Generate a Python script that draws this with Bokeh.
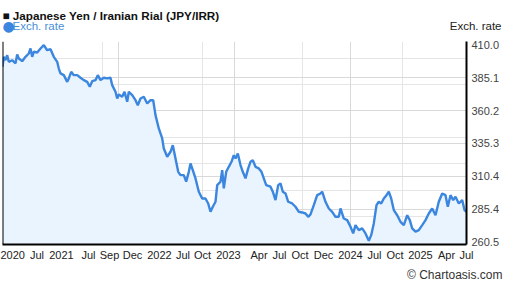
from bokeh.plotting import figure
from bokeh.models import Range1d, LinearAxis, FixedTicker, Span, Grid, PrintfTickFormatter, Title
from bokeh.embed import file_html
from bokeh.resources import INLINE

# position along the index axis (0 = first point, 464 = last point)
t_idx = [0, 1.3, 3, 4.7, 6.3, 9.7, 13, 14.7, 16.3, 19.7, 23, 26.3, 28, 29.7, 31.3, 34.7, 38, 41.3, 44.7, 48,
         51.3, 54.7, 56.3, 58, 61.3, 64.7, 66.3, 68.7, 71.3, 74.7, 78, 81.3, 84.7, 87.3, 89.7, 93, 95.3, 98, 101.3,
         104.7, 108, 109.7, 113, 114.7, 116.3, 119.7, 122, 124.7, 126.3, 129.7, 133, 135.3, 138, 141.3, 144.7, 148,
         150.7, 153, 156.3, 158, 159.7, 161.3, 164.7, 168, 170.3, 173, 175.7, 178, 181.3, 183.7, 186.3, 188, 190.3,
         193, 196.3, 199.7, 203, 205.7, 208, 210.3, 213, 214.7, 218, 219.7, 221.3, 223.7, 226.3, 229, 231.3, 233,
         235.3, 238, 240.3, 243, 245.7, 248, 250.3, 253, 256.3, 259, 261.3, 263.7, 268, 270.3, 273, 275.7, 278,
         280.3, 283, 285.7, 289.7, 293, 296.3, 299.7, 303, 305.7, 308, 311.3, 314.7, 318, 319.7, 323, 326.3, 329.7,
         333, 336.3, 338, 341.3, 344.7, 348, 350.7, 353, 356.3, 359.7, 363, 366.3, 368.7, 371.3, 374, 376.3, 378.7,
         381.3, 384, 386.3, 388.7, 391.3, 394.7, 398, 401.3, 404.7, 407.3, 409.7, 413, 416.3, 419.7, 423, 426.3,
         429.7, 433, 436.3, 439.7, 443, 445.3, 448, 450.7, 453, 456.3, 459.7, 462, 464]
rate = [393.4, 401.0, 398.4, 402.2, 397.2, 398.4, 396.0, 402.8, 399.7, 397.7, 401.0, 403.5, 407.3, 401.0, 404.8,
        404.3, 407.3, 409.8, 406.0, 406.8, 401.0, 397.2, 392.1, 388.4, 387.1, 382.0, 384.6, 389.6, 387.1, 387.1,
        385.1, 383.3, 382.0, 378.3, 382.5, 383.3, 387.1, 383.3, 385.1, 384.6, 385.1, 379.5, 374.5, 369.4, 372.4,
        370.7, 374.5, 366.9, 374.5, 371.9, 368.1, 364.3, 369.4, 370.7, 365.6, 368.1, 368.1, 356.8, 346.7, 342.9,
        339.1, 331.5, 325.2, 329.0, 334.0, 323.9, 313.8, 311.3, 311.3, 306.3, 313.8, 320.1, 315.1, 308.8, 298.7,
        293.6, 293.6, 289.8, 283.5, 287.3, 291.1, 303.7, 306.3, 315.1, 301.2, 313.8, 317.6, 321.4, 326.4, 323.9,
        327.7, 318.9, 313.8, 308.8, 316.4, 321.4, 322.6, 317.6, 316.4, 313.8, 308.8, 303.7, 302.5, 298.7, 292.4,
        303.7, 305.0, 298.7, 297.4, 291.1, 289.8, 287.3, 283.5, 283.0, 282.2, 279.7, 281.5, 288.5, 296.1, 297.4,
        298.7, 291.1, 286.0, 283.5, 279.7, 279.7, 286.0, 278.4, 277.2, 272.1, 267.1, 273.4, 269.6, 270.9, 267.1,
        261.5, 265.8, 274.7, 288.5, 291.1, 289.8, 293.6, 296.1, 298.7, 293.6, 284.8, 280.9, 275.9, 273.4, 280.9,
        277.2, 270.9, 268.4, 269.6, 273.4, 277.2, 282.2, 286.0, 280.9, 291.1, 297.4, 296.1, 287.3, 296.1, 292.4,
        294.9, 289.8, 292.4, 284.8, 283.5]

x_tick_pos = [10, 34.5, 59, 86, 107, 130, 157, 180.5, 200, 226, 256.5, 277, 297.5, 321, 348, 372, 392.5, 418, 444, 464]
x_tick_labels = ["2020", "Jul", "2021", "Jul", "Sep", "Dec", "2022", "Jul", "Oct", "2023", "Apr", "Jul", "Oct",
                 "Dec", "2024", "Jul", "Oct", "2025", "Apr", "Jul"]
y_ticks = [260.5, 285.4, 310.4, 335.3, 360.2, 385.1, 410.0]

X_START, X_END = 0, 464
Y_START, Y_END = 258.7, 412.6

FONT = "Liberation Sans"

p = figure(width=507, height=288, output_backend="svg", toolbar_location=None,
           x_range=Range1d(X_START, X_END), y_range=Range1d(Y_START, Y_END),
           x_axis_location=None, y_axis_location=None,
           min_border_left=2, min_border_right=41, min_border_top=41, min_border_bottom=44)
p.outline_line_color = None
p.background_fill_color = "white"
p.border_fill_color = "white"

p.add_layout(Grid(dimension=0, ticker=FixedTicker(ticks=[X_END * k / 4 for k in (1, 2, 3)]),
                  grid_line_color="#d9d9d9", grid_line_width=1))
p.add_layout(Grid(dimension=1, ticker=FixedTicker(ticks=y_ticks[1:-1]),
                  grid_line_color="#d9d9d9", grid_line_width=1))

p.varea(x=t_idx, y1=Y_START, y2=rate, fill_color="#eaf4fe")
p.line(t_idx, rate, line_color="#3b86de", line_width=2.4)

ry = LinearAxis(ticker=FixedTicker(ticks=y_ticks), formatter=PrintfTickFormatter(format="%.1f"),
                axis_line_color="black", axis_line_width=2,
                major_tick_line_color=None, minor_tick_line_color=None,
                major_tick_out=0, major_tick_in=0,
                major_label_text_font=FONT, major_label_text_font_size="11px",
                major_label_text_color="#444444", major_label_standoff=5)
p.add_layout(ry, "right")

bx = LinearAxis(ticker=FixedTicker(ticks=x_tick_pos),
                major_label_overrides={float(k): v for k, v in zip(x_tick_pos, x_tick_labels)},
                axis_line_color="black", axis_line_width=2,
                major_tick_line_color=None, minor_tick_line_color=None,
                major_tick_out=0, major_tick_in=0,
                major_label_text_font=FONT, major_label_text_font_size="11px",
                major_label_text_color="#222222", major_label_standoff=4)
p.add_layout(bx, "below")

p.add_layout(Span(location=X_START, dimension="height", line_color="black", line_width=2))


def title(text, size, color, align, style="normal", standoff=0, offset=0, valign="middle", font=FONT):
    try:
        t = Title(text=text, text_font=font, text_font_size=size, text_color=color, align=align,
                  text_font_style=style, standoff=standoff, offset=offset, vertical_align=valign)
    except Exception:
        t = Title(text=text, text_font=font, text_font_size=size, text_color=color, align=align,
                  text_font_style=style, standoff=max(standoff, 0), vertical_align=valign)
    return t


# above panel: first added sits nearest the frame
p.add_layout(title(" ", "11.5px", "#222222", "left", standoff=2), "above")          # spacer row
p.add_layout(title("Exch. rate", "11.5px", "#222222", "right", standoff=-15, offset=-35), "above")
p.add_layout(title("Exch. rate", "11.5px", "#4a90d9", "left", standoff=-15, offset=10), "above")
p.add_layout(title("●", "14px", "#3b86de", "left", standoff=-18.5, offset=0, font="DejaVu Sans"), "above")
p.add_layout(title("■ Japanese Yen / Iranian Rial (JPY/IRR)", "11.7px", "#111111", "left",
                   style="bold", standoff=5), "above")

p.add_layout(title("© Chartoasis.com", "12px", "#333333", "right", standoff=6, offset=-36), "below")

open("out.html", "w").write(file_html(p, INLINE))
